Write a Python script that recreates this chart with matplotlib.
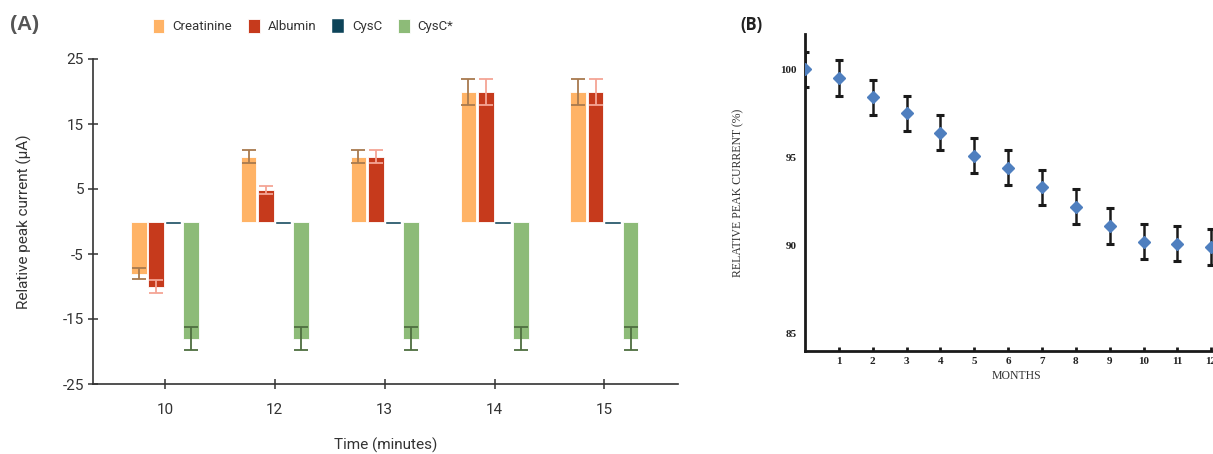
import matplotlib
matplotlib.use("Agg")
import matplotlib.pyplot as plt
import numpy as np

# ---------------- Panel A data ----------------
times = ["10", "12", "13", "14", "15"]
series_names = ["Creatinine", "Albumin", "CysC", "CysC*"]
creatinine = [-8.0, 10.0, 10.0, 20.0, 20.0]
creatinine_err = [0.8, 1.0, 1.0, 2.0, 2.0]
albumin = [-10.0, 4.8, 10.0, 20.0, 20.0]
albumin_err = [1.0, 0.6, 1.0, 2.0, 2.0]
cysc = [-0.4, -0.4, -0.4, -0.4, -0.4]
cysc_star = [-18.0, -18.0, -18.0, -18.0, -18.0]
cysc_star_err = [1.8, 1.8, 1.8, 1.8, 1.8]
a_yticks = [-25, -15, -5, 5, 15, 25]

# ---------------- Panel B data ----------------
months = [0, 1, 2, 3, 4, 5, 6, 7, 8, 9, 10, 11, 12]
rel_current = [100.0, 99.5, 98.4, 97.5, 96.4, 95.1, 94.4, 93.3, 92.2, 91.1, 90.2, 90.1, 89.9]
rel_err = [1.0] * 13
b_yticks = [85, 90, 95, 100]

W, H = 1213, 454
fig = plt.figure(figsize=(W / 100, H / 100), dpi=100)
fig.patch.set_facecolor("white")

def px_axes(left, top, right, bottom):
    return [left / W, 1 - bottom / H, (right - left) / W, (bottom - top) / H]

# ---------------- Panel A ----------------
axA = fig.add_axes(px_axes(93, 59, 678, 384))
sans = ["Roboto", "DejaVu Sans"]
colors = ["#ffb366", "#c63a1c", "#0d4459", "#8dbb78"]
err_colors = ["#a87a4e", "#f4a595", None, "#4e6e40"]
vals = [creatinine, albumin, cysc, cysc_star]
errs = [creatinine_err, albumin_err, None, cysc_star_err]
x = np.arange(len(times))
step = 0.159
width = 0.142
offsets = [-1.5, -0.5, 0.5, 1.5]
for i in range(4):
    xs = x + offsets[i] * step
    axA.bar(xs, vals[i], width=width, color=colors[i], edgecolor="white",
            linewidth=0.6 if i != 2 else 0.3, label=series_names[i], zorder=2)
    if errs[i] is not None:
        axA.errorbar(xs, vals[i], yerr=errs[i], fmt="none", ecolor=err_colors[i],
                     elinewidth=1.3, capsize=5, capthick=1.3, zorder=3)

axA.set_xlim(-0.655, 4.67)
axA.set_ylim(-25, 25)
axA.set_xticks(x)
axA.set_xticklabels(times, fontfamily=sans, fontsize=11, color="#333333")
axA.set_yticks(a_yticks)
axA.set_yticklabels([str(t) for t in a_yticks], fontfamily=sans, fontsize=11, color="#333333")
for s in ["top", "right"]:
    axA.spines[s].set_visible(False)
for s in ["left", "bottom"]:
    axA.spines[s].set_color("#333333")
    axA.spines[s].set_linewidth(1.2)
axA.tick_params(axis="both", direction="inout", length=7, width=1.1, color="#333333")
axA.tick_params(axis="x", pad=10)
axA.tick_params(axis="y", pad=3)
axA.set_xlabel("Time (minutes)", fontfamily=sans, fontsize=11, color="#333333", labelpad=15)
axA.set_ylabel("Relative peak current (\u03bcA)", fontfamily=sans, fontsize=11,
               color="#333333", labelpad=22)

leg = axA.legend(loc="center", bbox_to_anchor=(303 / W, 1 - 26 / H), bbox_transform=fig.transFigure,
                 ncol=4, frameon=False, handlelength=0.9, handleheight=1.3, handletextpad=0.6,
                 columnspacing=1.2, prop={"family": sans, "size": 9.5})
for t in leg.get_texts():
    t.set_color("#333333")
fig.text(10 / W, 1 - 25 / H, "(A)", fontfamily=["Liberation Sans", "DejaVu Sans"], fontweight="bold",
         fontsize=15, color="#555555", va="center", ha="left")

# ---------------- Panel B ----------------
serif = "Liberation Serif"
axB = fig.add_axes(px_axes(805, 34, 805 + 12.5 * 33.85, 351))
axB.errorbar(months, rel_current, yerr=rel_err, fmt="D", color="#4f7fbf", markersize=6,
             ecolor="#1a1a1a", elinewidth=1.8, capsize=3, capthick=2.2, zorder=3)
axB.set_xlim(0, 12.5)
axB.set_ylim(84, 102)
axB.set_xticks(months[1:])
axB.set_xticklabels([str(m) for m in months[1:]], fontfamily=serif, fontweight="bold",
                    fontsize=8, color="#222222")
axB.set_yticks(b_yticks)
axB.set_yticklabels([str(t) for t in b_yticks], fontfamily=serif, fontweight="bold",
                    fontsize=8, color="#222222")
for s in ["top", "right"]:
    axB.spines[s].set_visible(False)
for s in ["left", "bottom"]:
    axB.spines[s].set_color("#1a1a1a")
    axB.spines[s].set_linewidth(2.0)
axB.tick_params(axis="x", direction="in", length=3, width=2, color="#1a1a1a", pad=4)
axB.tick_params(axis="y", length=0, pad=6)
axB.set_xlabel("MONTHS", fontfamily=serif, fontsize=8.5, color="#333333", labelpad=3)
axB.set_ylabel("RELATIVE PEAK CURRENT (%)", fontfamily=serif, fontsize=8.5, color="#333333",
               labelpad=26)
fig.text(740 / W, 1 - 25 / H, "(B)", fontfamily="Open Sans", fontweight="bold", fontsize=12,
         color="#222222", va="center", ha="left")

fig.savefig("out.png", dpi=100)
